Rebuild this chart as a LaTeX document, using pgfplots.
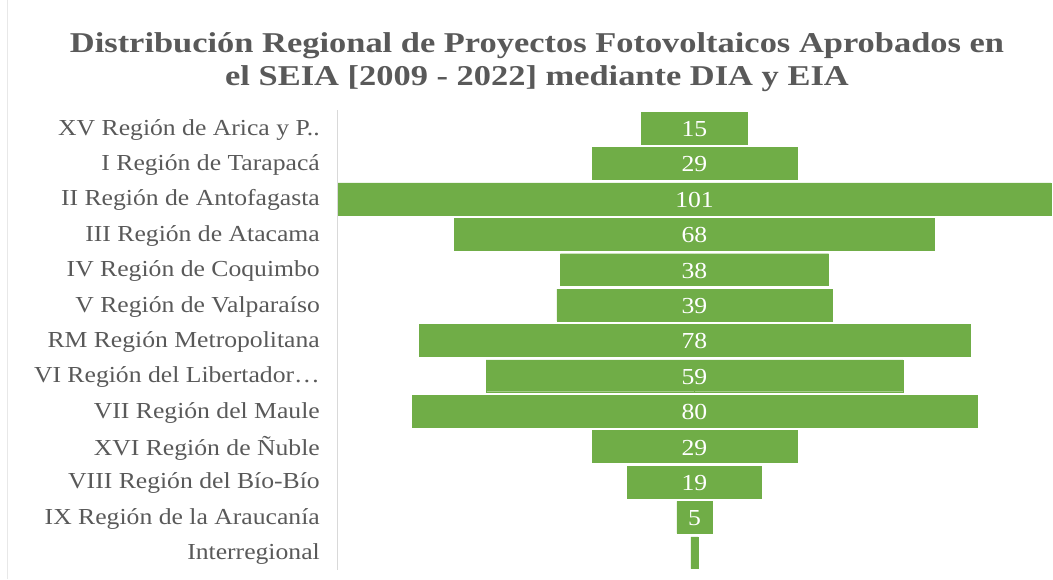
\documentclass[border=0pt]{standalone}
\usepackage{fontspec}
\setmainfont{Liberation Serif}[FakeStretch=1.12]
\newfontfamily\titlefont{Liberation Serif}[FakeStretch=1.2]
\usepackage{pgfplots}
\pgfplotsset{compat=1.18}
\usepackage{pgfplotstable}
\definecolor{barg}{HTML}{70AD47}
\definecolor{txt}{HTML}{595959}
\definecolor{axl}{HTML}{D9D9D9}
\pgfplotstableread{
idx val
0 15
1 29
2 101
3 68
4 38
5 39
6 78
7 59
8 80
9 29
10 19
11 5
12 1
}\funnel
\begin{document}
\begin{tikzpicture}
\begin{axis}[name=ax, scale only axis, width=713bp, height=460bp,
  xmin=-50.5, xmax=50.5, ymin=-0.5, ymax=12.5, y dir=reverse,
  axis x line=none, axis y line=left,
  axis line style={draw=axl, line width=1pt, -},
  ytick={0,...,12},
  yticklabels={XV Región de Arica y P..,I Región de Tarapacá,II Región de Antofagasta,III Región de Atacama,IV Región de Coquimbo,V Región de Valparaíso,RM Región Metropolitana,VI Región del Libertador…,VII Región del Maule,XVI Región de Ñuble,VIII Región del Bío-Bío,IX Región de la Araucanía,Interregional},
  major tick length=0pt,
  yticklabel style={font=\fontsize{23}{26}\selectfont, text=txt, anchor=east, inner sep=0pt, xshift=-18bp, yshift=-1.5bp},
  clip=false]
\addplot[xbar, bar shift=0pt, bar width=0.9, fill=barg, draw=barg, line width=0.3pt]
  table[x expr=\thisrow{val}/2, y=idx]{\funnel};
\addplot[xbar, bar shift=0pt, bar width=0.9, fill=barg, draw=barg, line width=0.3pt]
  table[x expr=-\thisrow{val}/2, y=idx]{\funnel};
\addplot[only marks, mark=none, point meta=explicit symbolic, nodes near coords,
  every node near coord/.append style={anchor=center, text=white, font=\fontsize{23}{26}\selectfont, yshift=-1bp},
  skip coords between index={12}{13}]
  table[x expr=0, y=idx, meta=val]{\funnel};
\end{axis}
\path (ax.south west) ++(-338bp,-9bp) coordinate (O);
\path (O) rectangle ++(1053bp,579bp);
\draw[draw=axl!60, line width=0.8pt] ([shift={(7.5bp,0bp)}]O) -- ++(0,579bp);
\node[align=center, font=\titlefont\bfseries\fontsize{28.8}{33}\selectfont, text=txt, inner sep=0pt]
  at ([shift={(537bp,517bp)}]O)
  {Distribución Regional de Proyectos Fotovoltaicos Aprobados en\\el SEIA [2009 - 2022] mediante DIA y EIA};
\end{tikzpicture}
\end{document}
